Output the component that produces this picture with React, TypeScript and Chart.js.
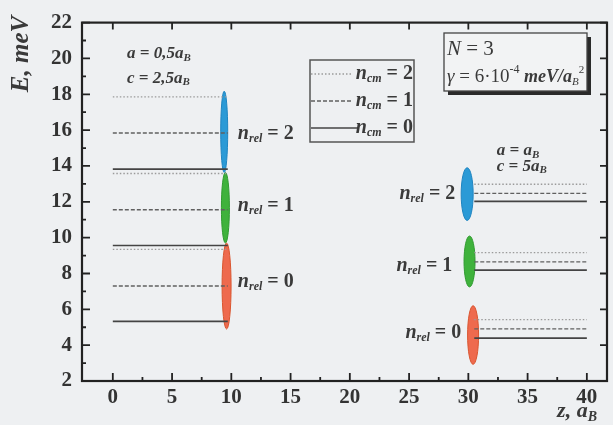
import React, { useEffect, useRef } from "react";
import { Chart, registerables } from "chart.js";

Chart.register(...registerables);

// ---- data ----
const leftZ = [0, 9.7];
const rightZ = [30.5, 40];
const leftNcm0 = [5.33, 9.56, 13.82];
const leftNcm1 = [7.3, 11.56, 15.84];
const leftNcm2 = [9.34, 13.58, 17.86];
const rightNcm0 = [4.39, 8.19, 12.02];
const rightNcm1 = [4.91, 8.65, 12.47];
const rightNcm2 = [5.43, 9.16, 12.98];

const ellipseZ = [9.6, 9.5, 9.4, 30.4, 30.1, 29.9];
const ellipseEmin = [4.9, 9.7, 13.64, 2.93, 7.25, 10.96];
const ellipseEmax = [9.7, 13.64, 18.17, 6.2, 10.09, 13.9];
const ellipseNrel = [0, 1, 2, 0, 1, 2];

const xTicks = [0, 5, 10, 15, 20, 25, 30, 35, 40];
const yTicks = [2, 4, 6, 8, 10, 12, 14, 16, 18, 20, 22];

const relLabelsLeft = [
  { n: 2, z: 10.55, e: 15.8 },
  { n: 1, z: 10.55, e: 11.78 },
  { n: 0, z: 10.55, e: 7.52 },
];
const relLabelsRight = [
  { n: 2, z: 28.9, e: 12.44 },
  { n: 1, z: 28.65, e: 8.45 },
  { n: 0, z: 29.4, e: 4.68 },
];

const SERIF = '"Liberation Serif", "Times New Roman", Times, serif';
const ELLIPSE_COLORS = ["#ee6a4e", "#3fb23c", "#2b9ad6"];
const ELLIPSE_EDGE = ["#d9552f", "#2f9a30", "#1f84c0"];

const styles = [
  { color: "#444444", width: 1.7, dash: [] as number[] },
  { color: "#606060", width: 1.4, dash: [4, 2] },
  { color: "#9a9a9a", width: 1.3, dash: [1.5, 2] },
];

function buildDatasets() {
  const ds: any[] = [];
  const groups = [
    { z: leftZ, sets: [leftNcm0, leftNcm1, leftNcm2] },
    { z: rightZ, sets: [rightNcm0, rightNcm1, rightNcm2] },
  ];
  groups.forEach((g) => {
    g.sets.forEach((arr, ncm) => {
      arr.forEach((e) => {
        ds.push({
          data: [
            { x: g.z[0], y: e },
            { x: g.z[1], y: e },
          ],
          showLine: true,
          pointRadius: 0,
          borderColor: styles[ncm].color,
          borderWidth: styles[ncm].width,
          borderDash: styles[ncm].dash,
        });
      });
    });
  });
  return ds;
}

type Part = { t: string; font: string; dy?: number };
function drawParts(ctx: CanvasRenderingContext2D, parts: Part[], x: number, y: number, align: "left" | "right") {
  let total = 0;
  parts.forEach((p) => {
    ctx.font = p.font;
    total += ctx.measureText(p.t).width;
  });
  let cx = align === "left" ? x : x - total;
  ctx.textAlign = "left";
  parts.forEach((p) => {
    ctx.font = p.font;
    ctx.fillText(p.t, cx, y + (p.dy || 0));
    cx += ctx.measureText(p.t).width;
  });
}

const nrelParts = (n: number): Part[] => [
  { t: "n", font: `italic bold 20px ${SERIF}` },
  { t: "rel", font: `italic bold 12px ${SERIF}`, dy: 5 },
  { t: " = " + n, font: `bold 20px ${SERIF}` },
];
const ncmParts = (n: number): Part[] => [
  { t: "n", font: `italic bold 20px ${SERIF}` },
  { t: "cm", font: `italic bold 12px ${SERIF}`, dy: 5 },
  { t: " = " + n, font: `bold 20px ${SERIF}` },
];

const decorPlugin = {
  id: "decor",
  beforeDatasetsDraw(chart: any) {
    const ctx = chart.ctx as CanvasRenderingContext2D;
    const xs = chart.scales.x;
    const ys = chart.scales.y;
    ctx.save();
    const widths = [9, 8, 7, 11, 11, 12];
    ellipseZ.forEach((z, i) => {
      const cx = xs.getPixelForValue(z);
      const y1 = ys.getPixelForValue(ellipseEmax[i]);
      const y2 = ys.getPixelForValue(ellipseEmin[i]);
      const col = ellipseNrel[i];
      ctx.beginPath();
      ctx.ellipse(cx, (y1 + y2) / 2, widths[i] / 2, (y2 - y1) / 2, 0, 0, Math.PI * 2);
      ctx.fillStyle = ELLIPSE_COLORS[col];
      ctx.fill();
      ctx.lineWidth = 1;
      ctx.strokeStyle = ELLIPSE_EDGE[col];
      ctx.stroke();
    });
    ctx.restore();
  },
  afterDraw(chart: any) {
    const ctx = chart.ctx as CanvasRenderingContext2D;
    const a = chart.chartArea;
    const xs = chart.scales.x;
    const ys = chart.scales.y;
    ctx.save();
    // frame
    ctx.strokeStyle = "#222";
    ctx.lineWidth = 2.2;
    ctx.strokeRect(a.left, a.top, a.right - a.left, a.bottom - a.top);
    // ticks
    ctx.lineWidth = 1.8;
    ctx.beginPath();
    for (let v = 2; v <= 22; v += 1) {
      const y = ys.getPixelForValue(v);
      const len = v % 2 === 0 ? 8 : 4;
      ctx.moveTo(a.left, y);
      ctx.lineTo(a.left + len, y);
      if (v % 2 === 0) {
        ctx.moveTo(a.right, y);
        ctx.lineTo(a.right - 7, y);
      }
    }
    xTicks.forEach((v) => {
      const x = xs.getPixelForValue(v);
      ctx.moveTo(x, a.bottom);
      ctx.lineTo(x, a.bottom - 8);
      ctx.moveTo(x, a.top);
      ctx.lineTo(x, a.top + 7);
      if (v < 40) {
        const xm = xs.getPixelForValue(v + 2.5);
        ctx.moveTo(xm, a.bottom);
        ctx.lineTo(xm, a.bottom - 4);
      }
    });
    ctx.stroke();

    ctx.fillStyle = "#3a3a3a";
    ctx.textBaseline = "middle";
    // axis titles
    ctx.save();
    ctx.translate(22, 54);
    ctx.rotate(-Math.PI / 2);
    ctx.font = `italic bold 25px ${SERIF}`;
    ctx.textAlign = "center";
    ctx.fillText("E, meV", 0, 0);
    ctx.restore();
    drawParts(
      ctx,
      [
        { t: "z, a", font: `italic bold 22px ${SERIF}` },
        { t: "B", font: `italic bold 14px ${SERIF}`, dy: 6 },
      ],
      597,
      411,
      "right"
    );

    // n_rel labels
    relLabelsLeft.forEach((l) =>
      drawParts(ctx, nrelParts(l.n), xs.getPixelForValue(l.z), ys.getPixelForValue(l.e), "left")
    );
    relLabelsRight.forEach((l) =>
      drawParts(ctx, nrelParts(l.n), xs.getPixelForValue(l.z), ys.getPixelForValue(l.e), "right")
    );

    // parameter texts
    const pf = `italic bold 17px ${SERIF}`;
    const ps = `italic bold 11px ${SERIF}`;
    drawParts(ctx, [{ t: "a = 0,5a", font: pf }, { t: "B", font: ps, dy: 4 }], xs.getPixelForValue(1.2), ys.getPixelForValue(20.25), "left");
    drawParts(ctx, [{ t: "c = 2,5a", font: pf }, { t: "B", font: ps, dy: 4 }], xs.getPixelForValue(1.2), ys.getPixelForValue(18.9), "left");
    drawParts(ctx, [{ t: "a = a", font: pf }, { t: "B", font: ps, dy: 4 }], xs.getPixelForValue(32.4), ys.getPixelForValue(14.84), "left");
    drawParts(ctx, [{ t: "c = 5a", font: pf }, { t: "B", font: ps, dy: 4 }], xs.getPixelForValue(32.4), ys.getPixelForValue(13.97), "left");

    // legend box
    ctx.strokeStyle = "#555";
    ctx.lineWidth = 1.5;
    ctx.strokeRect(310, 60, 104, 82);
    const legY = [74, 101, 128];
    const legStyle = [2, 1, 0];
    legY.forEach((y, i) => {
      const s = styles[legStyle[i]];
      ctx.beginPath();
      ctx.setLineDash(s.dash);
      ctx.strokeStyle = s.color;
      ctx.lineWidth = s.width;
      ctx.moveTo(311, y);
      ctx.lineTo(i === 2 ? 358 : 351, y);
      ctx.stroke();
      ctx.setLineDash([]);
      drawParts(ctx, ncmParts(legStyle[i]), 413, y, "right");
    });

    // N box with shadow
    ctx.fillStyle = "#2a2a2a";
    ctx.fillRect(448, 37, 143, 58);
    ctx.fillStyle = "#f2f3f4";
    ctx.fillRect(444, 33, 143, 58);
    ctx.strokeStyle = "#444";
    ctx.lineWidth = 1.3;
    ctx.strokeRect(444, 33, 143, 58);
    ctx.fillStyle = "#3a3a3a";
    drawParts(ctx, [{ t: "N", font: `italic 21px ${SERIF}` }, { t: " = 3", font: `21px ${SERIF}` }], 447, 49, "left");
    drawParts(
      ctx,
      [
        { t: "γ", font: `italic 19px ${SERIF}` },
        { t: " = 6·10", font: `19px ${SERIF}` },
        { t: "-4", font: `12px ${SERIF}`, dy: -7 },
        { t: " meV/a", font: `italic bold 18px ${SERIF}` },
        { t: "B", font: `italic 11px ${SERIF}`, dy: 5 },
        { t: "2", font: `11px ${SERIF}`, dy: -7 },
      ],
      447,
      77,
      "left"
    );
    ctx.restore();
  },
};

export default function App() {
  const ref = useRef<HTMLCanvasElement>(null);
  useEffect(() => {
    document.body.style.margin = "0";
    document.body.style.background = "#eef0f2";
    const chart = new Chart(ref.current!, {
      type: "scatter",
      data: { datasets: buildDatasets() },
      options: {
        animation: false,
        responsive: false,
        devicePixelRatio: 1,
        layout: { padding: { top: 15, right: 6, left: 0, bottom: 0 } },
        plugins: { legend: { display: false }, tooltip: { enabled: false } },
        scales: {
          x: {
            type: "linear",
            min: -2.6,
            max: 41.7,
            grid: { display: false, drawTicks: false },
            border: { display: false },
            afterBuildTicks: (s: any) => {
              s.ticks = xTicks.map((v) => ({ value: v }));
            },
            afterFit: (s: any) => {
              s.height = 44;
            },
            ticks: {
              padding: 4,
              maxRotation: 0,
              autoSkip: false,
              color: "#333",
              font: { family: SERIF, size: 21, weight: "bold" },
            },
          },
          y: {
            type: "linear",
            min: 2,
            max: 22,
            grid: { display: false, drawTicks: false },
            border: { display: false },
            afterBuildTicks: (s: any) => {
              s.ticks = yTicks.map((v) => ({ value: v }));
            },
            afterFit: (s: any) => {
              s.width = 82;
            },
            ticks: {
              padding: 10,
              autoSkip: false,
              color: "#333",
              font: { family: SERIF, size: 21, weight: "bold" },
            },
          },
        },
      },
      plugins: [decorPlugin],
    });
    return () => chart.destroy();
  }, []);
  return <canvas ref={ref} width={613} height={425} style={{ display: "block" }} />;
}
